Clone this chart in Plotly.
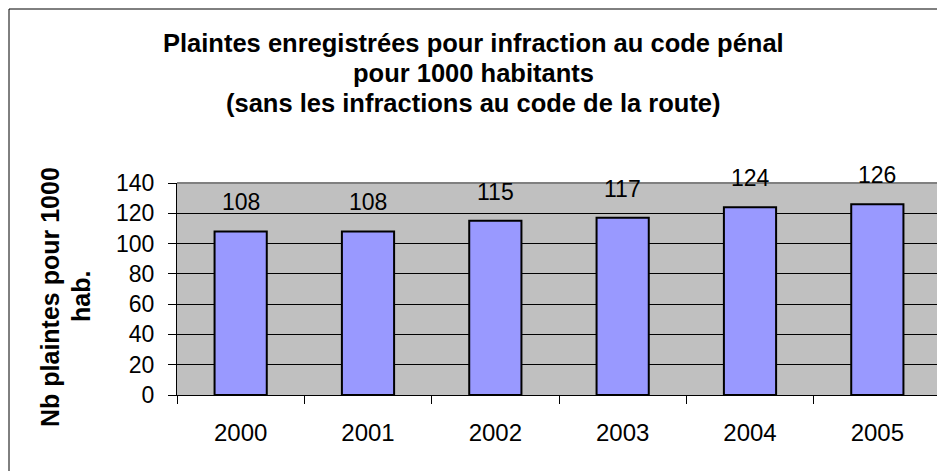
import plotly.graph_objects as go

years = ["2000", "2001", "2002", "2003", "2004", "2005"]
values = [108, 108, 115, 117, 124, 126]
y_ticks = [0, 20, 40, 60, 80, 100, 120, 140]
title_lines = [
    "Plaintes enregistrées pour infraction au code pénal",
    "pour 1000 habitants",
    "(sans les infractions au code de la route)",
]
ytitle_lines = ["Nb plaintes pour 1000", "hab."]

# The page body has an 8px margin; work in page pixels.
OFF = 8
W, H = 945 - OFF, 471 - OFF
PLOT_L, PLOT_R, PLOT_T, PLOT_B = 177, 941, 183, 395  # page pixels
L = PLOT_L - OFF
T = PLOT_T - OFF
R = W - (PLOT_R - OFF)
B = H - (PLOT_B - OFF)
PW = PLOT_R - PLOT_L
PH = PLOT_B - PLOT_T
FONT = "Liberation Sans, Arial, sans-serif"


def px_x(px):
    return (px - PLOT_L) / PW


def px_y(py):
    return (PLOT_B - py) / PH


fig = go.Figure()
fig.add_trace(go.Bar(
    x=years, y=values,
    marker=dict(color="#9999FF", line=dict(color="black", width=2)),
    width=0.41,
    hoverinfo="x+y",
))

annotations = []
for i, yv in enumerate(values):
    annotations.append(dict(
        x=i, y=yv, xref="x", yref="y", text=str(yv), showarrow=False,
        yanchor="middle", yshift=29, font=dict(family=FONT, size=23, color="black"),
    ))

title_y = [43, 73, 103]
for line, ty in zip(title_lines, title_y):
    annotations.append(dict(
        x=px_x(473), y=px_y(ty), xref="paper", yref="paper", text="<b>" + line + "</b>",
        showarrow=False, xanchor="center", yanchor="middle",
        font=dict(family=FONT, size=25.5, color="black"),
    ))

ytitle_x = [50, 81]
for line, tx in zip(ytitle_lines, ytitle_x):
    annotations.append(dict(
        x=px_x(tx), y=px_y(297), xref="paper", yref="paper", text="<b>" + line + "</b>",
        showarrow=False, xanchor="center", yanchor="middle", textangle=-90,
        font=dict(family=FONT, size=25, color="black"),
    ))

shapes = [
    dict(type="rect", xref="paper", yref="paper",
         x0=px_x(9), y0=px_y(490), x1=px_x(970), y1=px_y(9),
         line=dict(color="black", width=1), fillcolor="rgba(0,0,0,0)", layer="below"),
    dict(type="line", xref="paper", yref="paper", x0=0, x1=1, y0=1, y1=1,
         line=dict(color="#808080", width=2)),
    dict(type="line", xref="paper", yref="paper", x0=1, x1=1, y0=0, y1=1,
         line=dict(color="#808080", width=2)),
]

fig.update_layout(
    width=W, height=H,
    margin=dict(l=L, r=R, t=T, b=B, pad=0, autoexpand=False),
    paper_bgcolor="white",
    plot_bgcolor="#C0C0C0",
    showlegend=False,
    annotations=annotations,
    shapes=shapes,
    font=dict(family=FONT, color="black"),
)
fig.update_xaxes(
    type="category",
    automargin=False,
    tickangle=0,
    showline=True, linecolor="black", linewidth=1,
    ticks="outside", ticklen=8, tickcolor="black", tickwidth=1,
    tickson="boundaries",
    showgrid=False,
    tickfont=dict(family=FONT, size=24, color="black"),
    ticklabelstandoff=16,
)
fig.update_yaxes(
    range=[0, 140],
    automargin=False,
    tickvals=y_ticks,
    showline=True, linecolor="black", linewidth=1,
    ticks="outside", ticklen=8, tickcolor="black", tickwidth=1,
    showgrid=True, gridcolor="black", gridwidth=1,
    zeroline=False,
    tickfont=dict(family=FONT, size=23, color="black"),
    ticklabelstandoff=9,
)

fig.write_html("out.html")
